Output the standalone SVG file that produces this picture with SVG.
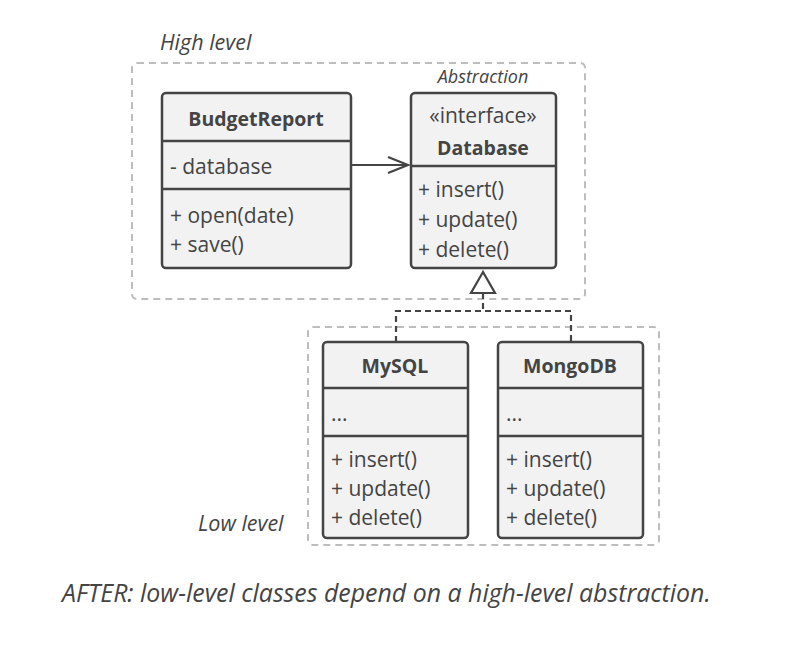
<svg xmlns="http://www.w3.org/2000/svg" width="788" height="657" viewBox="0 0 788 657">
<style>
.grp{fill:none;stroke:#bdbdbd;stroke-width:2;stroke-dasharray:7 5}
.box{fill:#f2f2f2;stroke:#444;stroke-width:2.5}
.div{stroke:#444;stroke-width:2.5}
.t{font-family:"Open Sans",sans-serif;font-size:21px;fill:#444}
.b{font-weight:bold;text-anchor:middle;font-size:19.5px}
.c{text-anchor:middle}
.i{font-family:"Open Sans",sans-serif;font-style:italic;fill:#444}
.con{fill:none;stroke:#444;stroke-width:2.2}
</style>
<rect width="788" height="657" fill="#fff"/>
<g id="highLevel">
<rect class="grp" x="132" y="63" width="453" height="236" rx="5"/>
<text class="i" x="160" y="50" font-size="21.5">High level</text>
<text class="i" x="483" y="83" font-size="18" text-anchor="middle">Abstraction</text>
</g>
<g id="lowLevel">
<rect class="grp" x="308" y="327" width="351" height="218" rx="5"/>
<text class="i" x="198" y="531" font-size="21.5">Low level</text>
</g>
<g id="BudgetReport">
<rect class="box" x="162" y="93" width="189" height="175" rx="4"/>
<line class="div" x1="162" y1="141" x2="351" y2="141"/>
<line class="div" x1="162" y1="189" x2="351" y2="189"/>
<text class="t b" x="256" y="126">BudgetReport</text>
<text class="t" x="170" y="174">- database</text>
<text class="t" x="170" y="223">+ open(date)</text>
<text class="t" x="170" y="252">+ save()</text>
</g>
<g id="Database">
<rect class="box" x="411" y="93" width="145" height="175" rx="4"/>
<line class="div" x1="411" y1="166" x2="556" y2="166"/>
<text class="t c" x="483" y="123">«interface»</text>
<text class="t b" x="483" y="155">Database</text>
<text class="t" x="418" y="197">+ insert()</text>
<text class="t" x="418" y="227">+ update()</text>
<text class="t" x="418" y="257">+ delete()</text>
</g>
<g id="MySQL">
<rect class="box" x="323" y="342" width="145" height="196" rx="4"/>
<line class="div" x1="323" y1="388" x2="468" y2="388"/>
<line class="div" x1="323" y1="436" x2="468" y2="436"/>
<text class="t b" x="395" y="373">MySQL</text>
<text class="t" x="331" y="421">...</text>
<text class="t" x="331" y="467">+ insert()</text>
<text class="t" x="331" y="496">+ update()</text>
<text class="t" x="331" y="525">+ delete()</text>
</g>
<g id="MongoDB">
<rect class="box" x="498" y="342" width="145" height="196" rx="4"/>
<line class="div" x1="498" y1="388" x2="643" y2="388"/>
<line class="div" x1="498" y1="436" x2="643" y2="436"/>
<text class="t b" x="570" y="373">MongoDB</text>
<text class="t" x="506" y="421">...</text>
<text class="t" x="506" y="467">+ insert()</text>
<text class="t" x="506" y="496">+ update()</text>
<text class="t" x="506" y="525">+ delete()</text>
</g>
<g id="connectors">
<line class="con" x1="351" y1="165" x2="408" y2="165"/>
<polyline class="con" points="388,157 408,165 388,173"/>
<polygon class="con" points="483,272 471,293 495,293" fill="#fff"/>
<polyline class="con" stroke-dasharray="6 4" points="483,293 483,311"/>
<polyline class="con" stroke-dasharray="6 4" points="396,342 396,311 571,311 571,342"/>
</g>
<text class="i" x="62" y="602" font-size="24.9" fill="#555">AFTER: low-level classes depend on a high-level abstraction.</text>
</svg>
